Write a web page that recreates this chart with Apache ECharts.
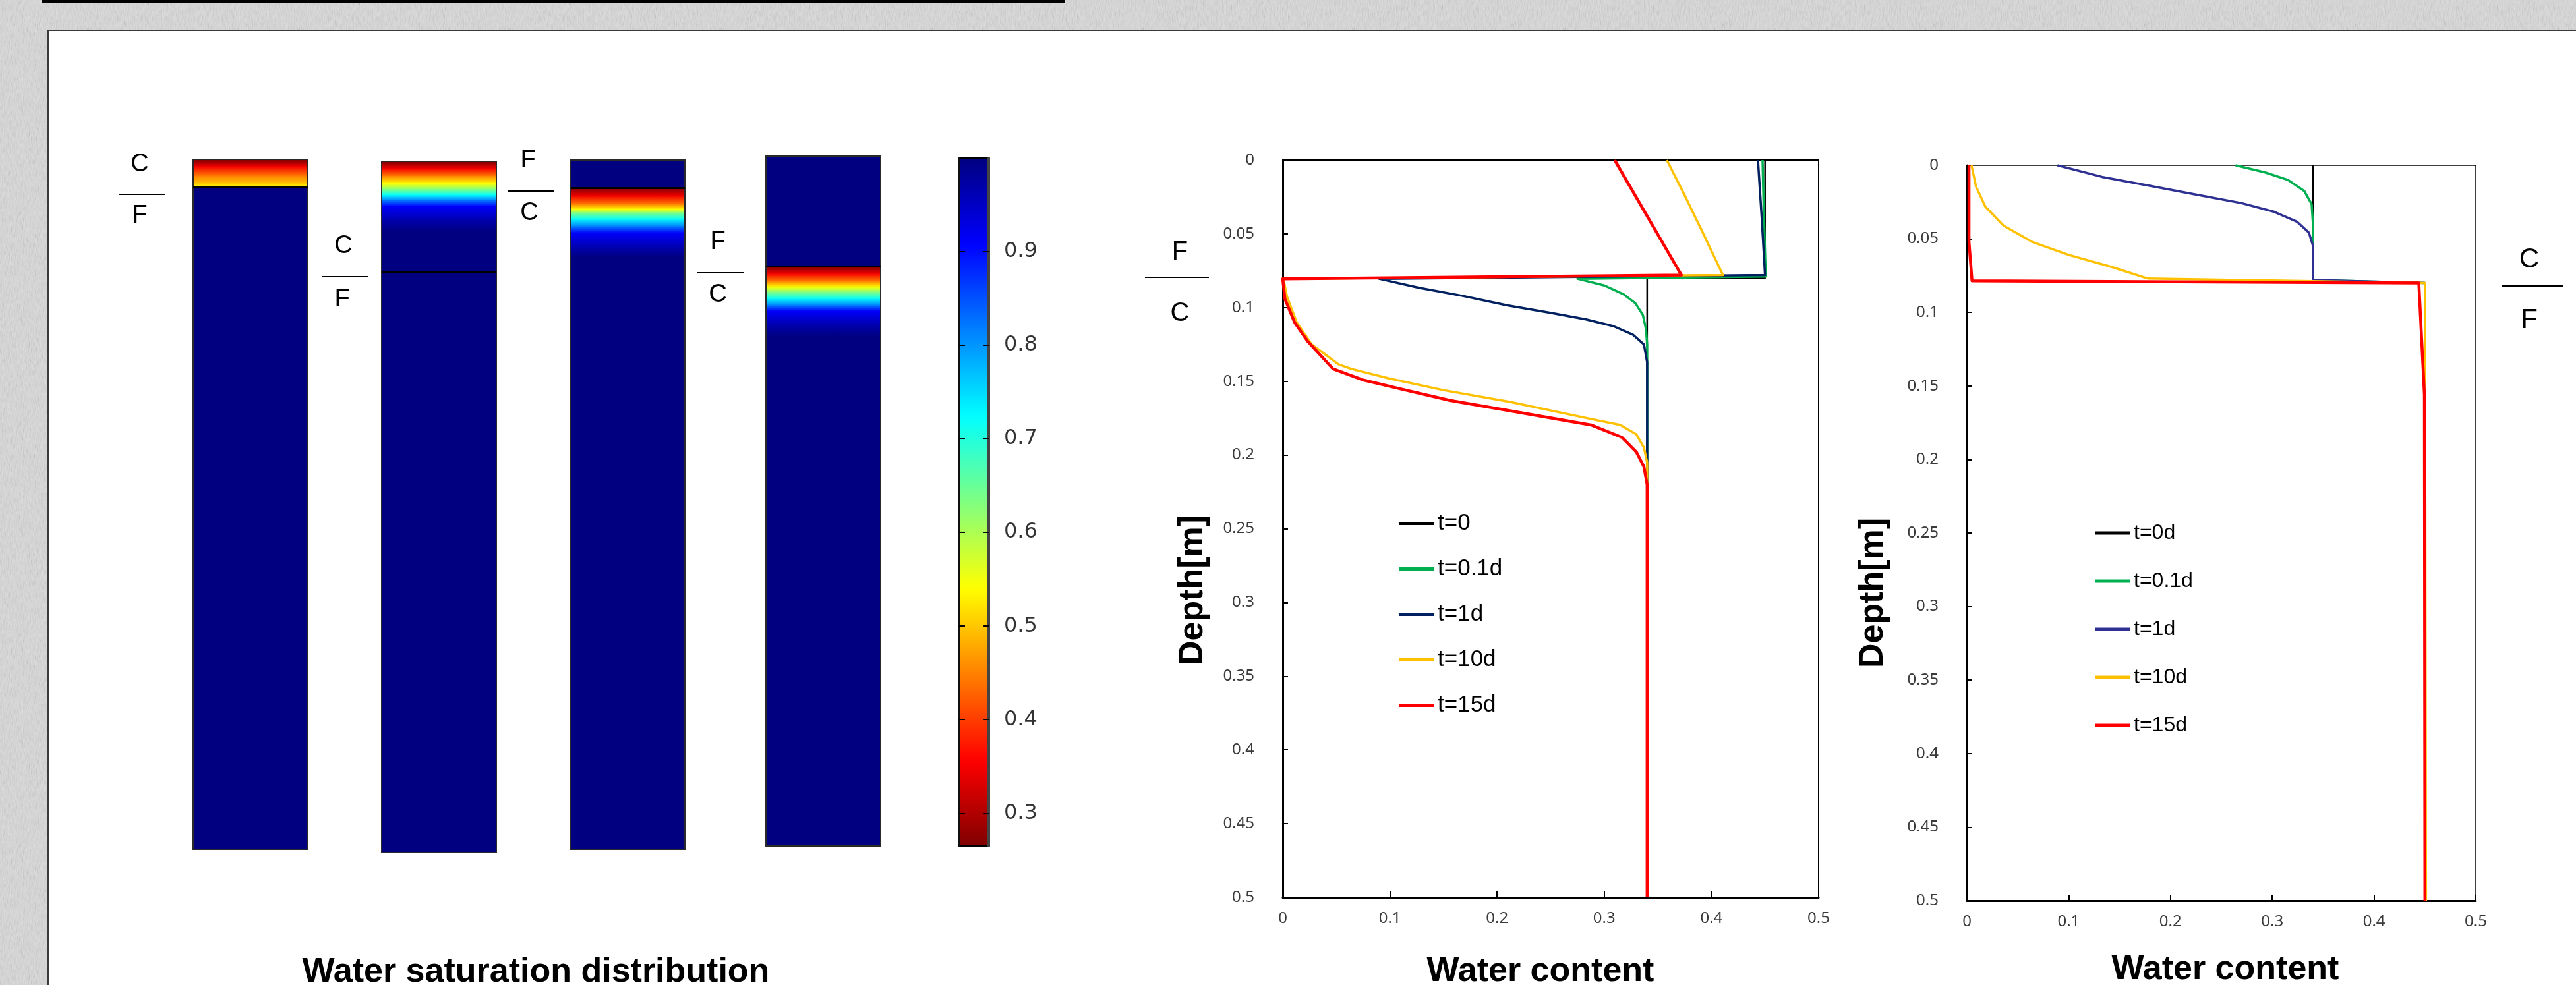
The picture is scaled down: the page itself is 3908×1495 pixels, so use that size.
<!DOCTYPE html>
<html>
<head>
<meta charset="utf-8">
<script src="https://cdn.jsdelivr.net/npm/echarts@6/dist/echarts.min.js"></script>
<style>
html,body{margin:0;padding:0;width:3908px;height:1495px;overflow:hidden;}
body{position:relative;background:#d9d9d9 url("data:image/svg+xml;utf8,<svg xmlns='http://www.w3.org/2000/svg' width='320' height='320'><filter id='n'><feTurbulence type='fractalNoise' baseFrequency='0.9 0.12' numOctaves='2' stitchTiles='stitch'/><feColorMatrix type='saturate' values='0'/></filter><rect width='320' height='320' fill='%23dadada'/><rect width='320' height='320' filter='url(%23n)' opacity='0.45'/></svg>");}
#topbar{position:absolute;left:63px;top:0;width:1553px;height:5px;background:#000;}
#panel{position:absolute;left:72px;top:45px;width:3900px;height:1500px;background:#fff;border-left:2px solid #3a3a3a;border-top:2px solid #3a3a3a;}
#chart{position:absolute;left:0;top:0;width:3908px;height:1495px;}
</style>
</head>
<body>
<div id="topbar"></div>
<div id="panel"></div>
<div id="chart"></div>
<script>
// ---------------- data ----------------
// colour bar (water saturation)
var satMin = 0.265, satMax = 1.0;
var colorbarTicks = [0.3, 0.4, 0.5, 0.6, 0.7, 0.8, 0.9];

// four soil columns: depth [m] and water saturation
var col1Depth = [0, 0.002, 0.005, 0.012, 0.0172, 0.0195, 0.0205, 0.5];
var col1Sat   = [0.27, 0.29, 0.35, 0.45, 0.50, 0.54, 0.999, 0.999];
var col2Depth = [0, 0.0005, 0.005, 0.0105, 0.0157, 0.020, 0.024, 0.028, 0.0324, 0.042, 0.050, 0.5];
var col2Sat   = [0.27, 0.27, 0.35, 0.45, 0.54, 0.63, 0.72, 0.82, 0.91, 0.965, 0.999, 0.999];
var col3Depth = [0, 0.0205, 0.0205, 0.0258, 0.032, 0.0354, 0.038, 0.0425, 0.048, 0.0526, 0.062, 0.070, 0.5];
var col3Sat   = [0.999, 0.999, 0.27, 0.35, 0.45, 0.54, 0.63, 0.72, 0.82, 0.91, 0.96, 0.999, 0.999];
var col4Depth = [0, 0.0805, 0.0805, 0.085, 0.0907, 0.0945, 0.0983, 0.103, 0.108, 0.112, 0.121, 0.130, 0.5];
var col4Sat   = [0.999, 0.999, 0.27, 0.35, 0.45, 0.54, 0.63, 0.72, 0.82, 0.91, 0.96, 0.999, 0.999];
var colInterfaces = [0.0205, 0.08, 0.0205, 0.0795];

// F over C profiles: [water content, depth]
var fcNames = ['t=0', 't=0.1d', 't=1d', 't=10d', 't=15d'];
var fcT0  = [[0.45,0],[0.45,0.08],[0.34,0.08],[0.34,0.5]];
var fcT01 = [[0.4477,0],[0.449,0.04],[0.4507,0.079],[0.275,0.0805],[0.300,0.085],[0.318,0.091],[0.329,0.097],[0.336,0.105],[0.339,0.115],[0.340,0.125],[0.340,0.5]];
var fcT1  = [[0.4434,0],[0.447,0.04],[0.450,0.078],[0.0899,0.0805],[0.127,0.0866],[0.168,0.0921],[0.209,0.0984],[0.2506,0.1037],[0.283,0.108],[0.3085,0.1126],[0.327,0.1185],[0.337,0.125],[0.340,0.137],[0.340,0.5]];
var fcT10 = [[0.3584,0],[0.374,0.0224],[0.391,0.0478],[0.4107,0.078],[0.0006,0.0805],[0.004,0.0925],[0.013,0.110],[0.027,0.125],[0.052,0.1385],[0.064,0.1416],[0.099,0.148],[0.150,0.156],[0.212,0.164],[0.284,0.175],[0.315,0.1796],[0.330,0.186],[0.337,0.195],[0.340,0.205],[0.340,0.5]];
var fcT15 = [[0.3097,0],[0.372,0.078],[0,0.0805],[0.002,0.094],[0.011,0.110],[0.0234,0.123],[0.047,0.1416],[0.0745,0.149],[0.109,0.155],[0.156,0.163],[0.212,0.170],[0.2876,0.1796],[0.3165,0.188],[0.330,0.198],[0.337,0.208],[0.340,0.22],[0.340,0.5]];

// C over F profiles: [water content, depth]
var cfNames = ['t=0d', 't=0.1d', 't=1d', 't=10d', 't=15d'];
var cfT0  = [[0.34,0],[0.34,0.078],[0.45,0.08],[0.45,0.5]];
var cfT01 = [[0.264,0],[0.293,0.0048],[0.3155,0.0099],[0.3315,0.0175],[0.3387,0.0264],[0.340,0.040],[0.340,0.078],[0.45,0.08],[0.45,0.5]];
var cfT1  = [[0.089,0],[0.1325,0.0078],[0.178,0.0137],[0.224,0.0197],[0.270,0.0257],[0.302,0.0316],[0.3245,0.0384],[0.336,0.0457],[0.340,0.0547],[0.340,0.078],[0.45,0.08],[0.45,0.5]];
var cfT10 = [[0.0045,0],[0.009,0.0145],[0.018,0.028],[0.036,0.041],[0.064,0.052],[0.1005,0.061],[0.1418,0.069],[0.178,0.077],[0.45,0.08],[0.451,0.5]];
var cfT15 = [[0.002,0],[0.002,0.052],[0.005,0.0785],[0.444,0.080],[0.4495,0.156],[0.45,0.5]];

// ---------------- styles ----------------
var jet = ['#800000','#ff0000','#ff8000','#ffff00','#80ff80','#00ffff','#0080ff','#0000ff','#000080'];
var fcColors = ['#000000','#00b050','#002060','#ffc000','#ff0000'];
var cfColors = ['#000000','#00b050','#2e3192','#ffc000','#ff0000'];
var lineWidths = [2.5, 3.5, 3.5, 3.5, 4.5];
var SANS = '"Liberation Sans", Arial, sans-serif';
var TICKFONT = '"Noto Sans", sans-serif';

var chart = echarts.init(document.getElementById('chart'), null, {renderer: 'canvas'});

function zip(a, b) { return a.map(function (v, i) { return [v, b[i]]; }); }

function renderColumn(params, api) {
  var i = params.dataIndexInside;
  var n = params.dataInsideLength;
  if (i >= n - 1) return;
  var d0 = api.value(0), d1 = api.value(0, i + 1);
  var p0 = api.coord([0, d0]);
  var p1 = api.coord([1, d1]);
  var h = p1[1] - p0[1];
  if (h < 0.05) return;
  var c0 = api.visual('color'), c1 = api.visual('color', i + 1);
  return {
    type: 'rect',
    shape: {x: p0[0], y: p0[1], width: p1[0] - p0[0], height: h + 1},
    style: {fill: new echarts.graphic.LinearGradient(0, 0, 0, 1, [{offset: 0, color: c0}, {offset: 1, color: c1}])}
  };
}

var colGrids = [
  {left: 293, top: 242, width: 174, height: 1047},
  {left: 579, top: 245, width: 174, height: 1049},
  {left: 866, top: 243, width: 173, height: 1046},
  {left: 1162, top: 237, width: 174, height: 1047}
];
var colData = [zip(col1Depth, col1Sat), zip(col2Depth, col2Sat), zip(col3Depth, col3Sat), zip(col4Depth, col4Sat)];

var grids = [], xAxes = [], yAxes = [], series = [];
colGrids.forEach(function (g, k) {
  grids.push(Object.assign({show: true, borderColor: '#2a2a2a', borderWidth: 2, z: 5, outerBoundsMode: 'none', containLabel: false}, g));
  xAxes.push({gridIndex: k, type: 'value', min: 0, max: 1, show: false});
  yAxes.push({gridIndex: k, type: 'value', min: 0, max: 0.5, inverse: true, show: false});
  series.push({
    type: 'custom', name: 'column' + (k + 1), xAxisIndex: k, yAxisIndex: k,
    data: colData[k], encode: {y: 0}, renderItem: renderColumn, silent: true, clip: true,
    markLine: {silent: true, symbol: 'none', label: {show: false},
      lineStyle: {color: '#000', width: 3, type: 'solid'}, data: [{yAxis: colInterfaces[k]}]}
  });
});

// colour bar grid (index 4)
grids.push({left: 1455, top: 240, width: 45, height: 1044, show: true, borderColor: '#000', borderWidth: 3, z: 10, outerBoundsMode: 'none', containLabel: false});
xAxes.push({gridIndex: 4, type: 'value', min: 0, max: 1, show: false});
yAxes.push({gridIndex: 4, type: 'value', min: satMin, max: satMax, position: 'right', z: 10,
  axisLine: {show: true, onZero: false, lineStyle: {color: '#444', width: 4}},
  axisTick: {show: true, inside: true, length: 9, customValues: colorbarTicks, lineStyle: {color: '#000', width: 2}},
  axisLabel: {show: true, customValues: colorbarTicks, margin: 23, fontFamily: '"DejaVu Sans", sans-serif', fontSize: 32, color: '#333'},
  splitLine: {show: false}});
yAxes.push({gridIndex: 4, type: 'value', min: satMin, max: satMax, position: 'left', z: 10,
  axisLine: {show: true, onZero: false, lineStyle: {color: '#111', width: 3}},
  axisTick: {show: true, inside: true, length: 9, customValues: colorbarTicks, lineStyle: {color: '#000', width: 2}},
  axisLabel: {show: false}, splitLine: {show: false}});

// line chart grids (5: F/C, 6: C/F)
function plotAxes(gi) {
  xAxes.push({gridIndex: gi, type: 'value', min: 0, max: 0.5, interval: 0.1,
    axisLine: {show: true, onZero: false, lineStyle: {color: '#000', width: 3}},
    axisTick: {show: true, inside: true, length: 9, lineStyle: {color: '#000', width: 2}},
    axisLabel: {fontFamily: TICKFONT, fontSize: 24, color: '#3a3a3a', margin: 20},
    splitLine: {show: false}});
  yAxes.push({gridIndex: gi, type: 'value', min: 0, max: 0.5, interval: 0.05, inverse: true,
    axisLine: {show: true, onZero: false, lineStyle: {color: '#000', width: 3}},
    axisTick: {show: true, inside: true, length: 8, lineStyle: {color: '#000', width: 2}},
    axisLabel: {fontFamily: TICKFONT, fontSize: 24, color: '#3a3a3a', margin: 43},
    splitLine: {show: false}});
}
grids.push({left: 1946, top: 243, width: 813, height: 1119, show: true, borderColor: '#000', borderWidth: 2, outerBoundsMode: 'none', containLabel: false});
plotAxes(5);
grids.push({left: 2984, top: 251, width: 772, height: 1116, show: true, borderColor: '#000', borderWidth: 1.5, outerBoundsMode: 'none', containLabel: false});
plotAxes(6);

var fcData = [fcT0, fcT01, fcT1, fcT10, fcT15];
var cfData = [cfT0, cfT01, cfT1, cfT10, cfT15];
function addLines(names, datas, colors, xi, yi) {
  names.forEach(function (nm, i) {
    series.push({type: 'line', name: nm, data: datas[i], xAxisIndex: xi, yAxisIndex: yi,
      showSymbol: false, symbol: 'none', smooth: false, clip: false, silent: true,
      color: colors[i], itemStyle: {color: colors[i]},
      lineStyle: {color: colors[i], width: lineWidths[i], join: 'round'}, z: 2 + i});
  });
}
addLines(fcNames, fcData, fcColors, 5, 6);
addLines(cfNames, cfData, cfColors, 6, 7);

function legendData(names, colors) {
  return names.map(function (n, i) { return {name: n, itemStyle: {color: colors[i]}}; });
}

function txt(t, x, y, size, bold, rot) {
  return {type: 'text', x: x, y: y, rotation: rot || 0, silent: true, z: 20,
    style: {text: t, fill: '#000', font: (bold ? 'bold ' : '') + size + 'px ' + SANS,
      align: 'center', verticalAlign: 'middle', textAlign: 'center', textVerticalAlign: 'middle'}};
}
function hline(x1, x2, y, w) {
  return {type: 'line', silent: true, z: 20, shape: {x1: x1, y1: y, x2: x2, y2: y}, style: {stroke: '#000', lineWidth: w || 2}};
}

var graphics = [
  txt('C', 212, 250, 38), hline(181, 251, 295), txt('F', 212, 328, 38),
  txt('C', 521, 374, 38), hline(488, 558, 420), txt('F', 519, 455, 38),
  txt('F', 801, 244, 38), hline(770, 840, 290), txt('C', 803, 324, 38),
  txt('F', 1089, 368, 38), hline(1058, 1128, 414), txt('C', 1089, 448, 38),
  txt('F', 1790, 383, 40), hline(1737, 1834, 421), txt('C', 1790, 476, 40),
  txt('C', 3837, 394, 42), hline(3795, 3888, 434), txt('F', 3837, 486, 42),
  txt('Water saturation distribution', 813, 1476, 52, true),
  txt('Water content', 2337, 1475, 52, true),
  txt('Water content', 3376, 1472, 52, true),
  txt('Depth[m]', 1810, 896, 52, true, Math.PI / 2),
  txt('Depth[m]', 2842, 900, 52, true, Math.PI / 2)
];

chart.setOption({
  animation: false,
  backgroundColor: 'transparent',
  textStyle: {fontFamily: SANS},
  tooltip: {show: false},
  grid: grids,
  xAxis: xAxes,
  yAxis: yAxes,
  visualMap: {
    type: 'continuous', min: satMin, max: satMax, dimension: 1, seriesIndex: [0, 1, 2, 3],
    calculable: false, realtime: false, hoverLink: false, text: null, showLabel: false,
    left: 1455, top: 240, itemWidth: 45, itemHeight: 1044, padding: 0, z: 1,
    inRange: {color: jet}
  },
  legend: [
    {orient: 'vertical', left: 2122, top: 777, itemWidth: 54, itemHeight: 5, itemGap: 34, icon: 'roundRect',
      selectedMode: false, padding: 0, textStyle: {fontSize: 35, fontFamily: SANS, color: '#000'},
      data: legendData(fcNames, fcColors)},
    {orient: 'vertical', left: 3178, top: 793, itemWidth: 54, itemHeight: 5, itemGap: 41, icon: 'roundRect',
      selectedMode: false, padding: 0, textStyle: {fontSize: 32, fontFamily: SANS, color: '#000'},
      data: legendData(cfNames, cfColors)}
  ],
  graphic: graphics,
  series: series
});
</script>
</body>
</html>
